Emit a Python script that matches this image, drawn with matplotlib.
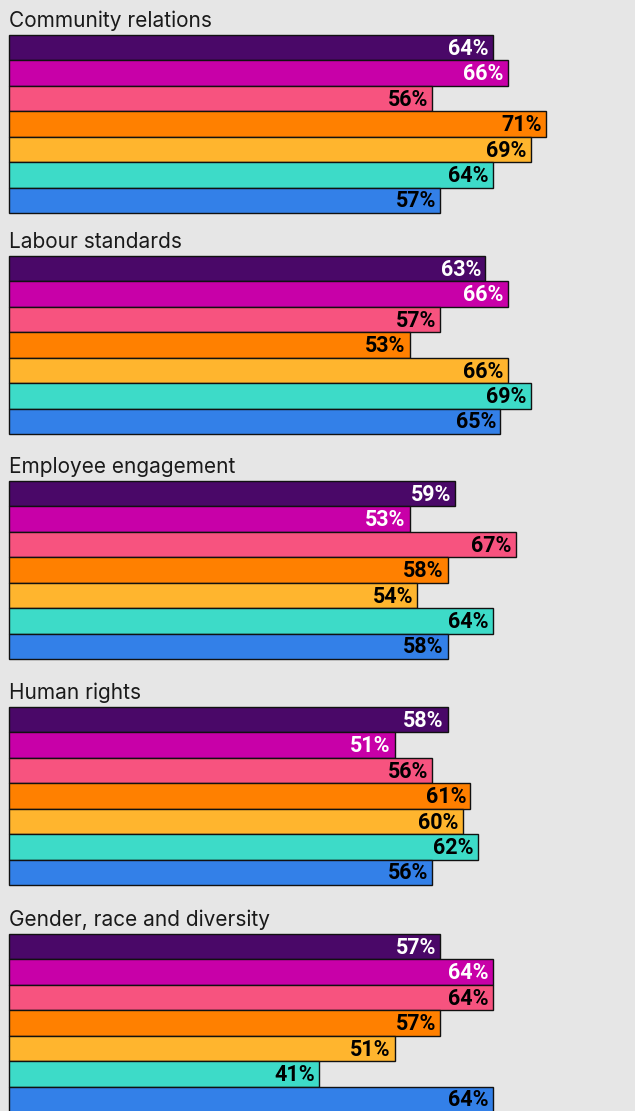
import numpy as np
import matplotlib
matplotlib.use("Agg")
import matplotlib.pyplot as plt

# data
groups = ["Community relations", "Labour standards", "Employee engagement",
          "Human rights", "Gender, race and diversity"]
community = [64, 66, 56, 71, 69, 64, 57]
labour = [63, 66, 57, 53, 66, 69, 65]
engagement = [59, 53, 67, 58, 54, 64, 58]
rights = [58, 51, 56, 61, 60, 62, 56]
diversity = [57, 64, 64, 57, 51, 41, 64]
series = [community, labour, engagement, rights, diversity]

colors = ["#4A0868", "#C800A8", "#F7537F", "#FF8000", "#FFB52E", "#3DDBC8", "#3380E8"]
label_colors = ["white", "white", "black", "black", "black", "black", "black"]

BG = "#E6E6E6"
W, H = 635, 1111
LEFT = 9
BLOCK = 178
group_tops = [35, 256, 481, 707, 934]

plt.rcParams["font.family"] = ["Inter", "DejaVu Sans"]

fig = plt.figure(figsize=(W / 100, H / 100), dpi=100, facecolor=BG)

for title, vals, top in zip(groups, series, group_tops):
    ax = fig.add_axes([LEFT / W, 1 - (top + BLOCK) / H, (W - LEFT) / W, BLOCK / H])
    ax.patch.set_alpha(0)
    ypos = np.arange(len(vals))
    bars = ax.barh(ypos, vals, height=1.0, color=colors, edgecolor="#111111", linewidth=1.0)
    for b in bars:
        b.set_clip_on(False)
    for y, v, lc in zip(ypos, vals, label_colors):
        ax.annotate(f"{v}%", (v, y), xytext=(-3, -0.8), textcoords="offset points",
                    ha="right", va="center", color=lc, fontsize=15.5, fontweight="bold",
                    family=["Roboto", "DejaVu Sans"])
    ax.set_xlim(0, 82.8)
    ax.set_ylim(len(vals) - 0.5, -0.5)
    ax.axis("off")
    fig.text(LEFT / W, 1 - (top - 8) / H, title, ha="left", va="baseline",
             fontsize=15, color="#1a1a1a")

fig.savefig("out.png", dpi=100, facecolor=BG)
